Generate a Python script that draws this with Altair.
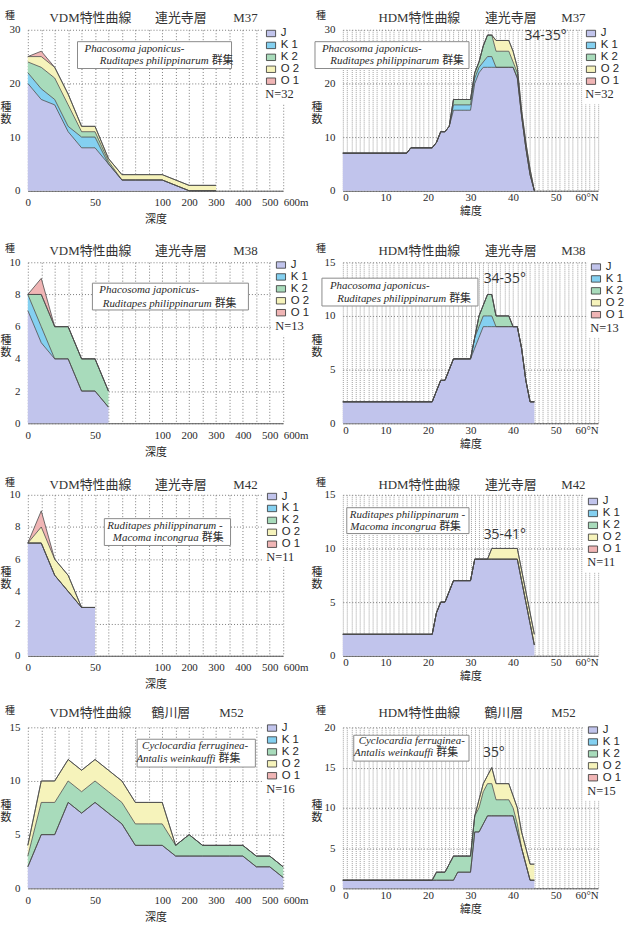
import altair as alt
import pandas as pd

# ---------------------------------------------------------------- data
SERIES = ["J", "K 1", "K 2", "O 2", "O 1"]
FILLS = ["#c1c4ec", "#84d0f0", "#a8dbbb", "#f6f3bb", "#f0b5b5"]

# depth steps of the VDM axis (one grid column per step)
DEPTH_STEPS = [0, 10, 20, 30, 40, 50, 60, 70, 80, 90, 100,
               150, 200, 250, 300, 350, 400, 450, 500, 600]
DEPTH_TICKS = [0, 50, 100, 200, 300, 400, 500, 600]

# M37 (連光寺層)
m37_depth = [0, 10, 20, 30, 40, 50, 60, 70, 80, 90, 100, 200, 300]
m37_vdm = {
    "J":   [20, 17, 16, 11, 8, 8, 5, 2, 2, 2, 2, 0, 0],
    "K 1": [2, 2, 1, 1, 2, 2, 0, 0, 0, 0, 0, 0, 0],
    "K 2": [2, 4, 4, 4, 1, 1, 0.5, 0, 0, 0, 0, 0, 0],
    "O 2": [1, 2, 2, 2, 1, 1, 0.5, 1, 1, 1, 1, 1, 1],
    "O 1": [0, 1, 0, 0, 0, 0, 0, 0, 0, 0, 0, 0, 0],
}
m37_lat = [0, 15, 16, 21, 22, 23, 24, 25, 26, 30, 31, 32, 33, 34, 35, 36, 39, 40, 41, 42, 43, 44, 45]
m37_hdm = {
    "J":   [7, 7, 8, 8, 9, 11, 11, 12, 15, 15, 20, 22, 23, 23, 23, 23, 23, 23, 21, 14, 8, 3, 0],
    "K 1": [0, 0, 0, 0, 0, 0, 0, 0, 1, 1, 1, 1, 1, 2, 2, 0, 0, 0, 0, 0, 0, 0, 0],
    "K 2": [0, 0, 0, 0, 0, 0, 0, 0, 1, 1, 1, 1, 3, 4, 4, 3, 3, 1, 1, 0, 0, 0, 0],
    "O 2": [0, 0, 0, 0, 0, 0, 0, 0, 0, 0, 0, 0, 0, 0, 0, 2, 2, 2, 1, 1, 1, 1, 0],
}

# M38 (連光寺層)
m38_depth = [0, 10, 20, 30, 40, 50, 60]
m38_vdm = {
    "J":   [7, 5, 4, 4, 2, 2, 1],
    "K 1": [1, 1, 0, 0, 0, 0, 0],
    "K 2": [0, 2, 2, 2, 2, 2, 1],
    "O 1": [0, 1, 0, 0, 0, 0, 0],
}
m38_lat = [0, 21, 22, 23, 24, 25, 26, 30, 31, 32, 33, 34, 35, 36, 39, 40, 41, 42, 43, 44, 45]
m38_hdm = {
    "J":   [2, 2, 3, 4, 4, 5, 6, 6, 7, 8, 9, 9, 9, 9, 9, 9, 9, 7, 4, 2, 2],
    "K 1": [0, 0, 0, 0, 0, 0, 0, 0, 1, 1, 1, 1, 1, 0, 0, 0, 0, 0, 0, 0, 0],
    "K 2": [0, 0, 0, 0, 0, 0, 0, 0, 0, 1, 1, 2, 2, 1, 1, 0, 0, 0, 0, 0, 0],
}

# M42 (連光寺層)
m42_depth = [0, 10, 20, 30, 40, 50]
m42_vdm = {
    "J":   [7, 7, 5, 4, 3, 3],
    "O 2": [0, 1, 1, 1, 0, 0],
    "O 1": [0, 1, 0, 0, 0, 0],
}
m42_lat = [0, 21, 22, 23, 24, 25, 26, 30, 31, 34, 35, 40, 41, 42, 43, 44, 45]
m42_hdm = {
    "J":   [2, 2, 4, 5, 5, 6, 7, 7, 9, 9, 9, 9, 9, 7, 5, 3, 1],
    "O 2": [0, 0, 0, 0, 0, 0, 0, 0, 0, 0, 1, 1, 1, 1, 1, 1, 1],
}

# M52 (鶴川層)
m52_depth = DEPTH_STEPS
m52_vdm = {
    "J":   [2, 5, 5, 8, 7, 8, 7, 6, 4, 4, 4, 3, 3, 3, 3, 3, 3, 2, 2, 1],
    "K 2": [1, 3, 3, 2, 2, 2, 2, 2, 2, 2, 2, 1, 2, 1, 1, 1, 1, 1, 1, 1],
    "O 2": [1, 2, 2, 2, 2, 2, 2, 2, 2, 2, 2, 0, 0, 0, 0, 0, 0, 0, 0, 0],
}
m52_lat = [0, 21, 22, 24, 25, 26, 27, 30, 31, 32, 33, 34, 35, 36, 39, 40, 41, 42, 43, 44, 45]
m52_hdm = {
    "J":   [1, 1, 1, 1, 1, 1, 2, 2, 7, 7, 8, 9, 9, 9, 9, 9, 7, 5, 3, 1, 1],
    "K 2": [0, 0, 1, 1, 2, 3, 2, 2, 2, 3, 4, 4, 4, 2, 2, 1, 1, 0, 0, 0, 0],
    "O 2": [0, 0, 0, 0, 0, 0, 0, 0, 0, 1, 1, 1, 2, 2, 2, 1.5, 2, 2, 2, 2, 2],
}

# ---------------------------------------------------------------- styling
W, H = 257, 162
SERIF = "Liberation Serif, Noto Sans CJK JP"
SANS = "Liberation Sans, Noto Sans CJK JP"
INK = "#2a2a2a"
SYMBOL = "M-1,-0.7H1V0.7H-1Z"
ONE = pd.DataFrame({"a": [0]})


def stacked(xs, cols):
    """Cumulative bands (y0..y1) for each group, J at the bottom."""
    rows, base = [], [0.0] * len(xs)
    for k, s in enumerate(SERIES):
        vals = cols.get(s, [0] * len(xs))
        for i, x in enumerate(xs):
            rows.append({"x": x, "series": s, "k": k, "y0": base[i], "y1": base[i] + vals[i]})
        base = [b + v for b, v in zip(base, vals)]
    return pd.DataFrame(rows)


def text(t, x, y, **kw):
    style = dict(font=SERIF, fontSize=12, color=INK, align="center", baseline="middle")
    style.update(kw)
    return alt.Chart(ONE).mark_text(text=t, **style).encode(x=alt.value(x), y=alt.value(y))


def depth_label_expr():
    parts = []
    for d in DEPTH_TICKS:
        lab = f"{d}m" if d == DEPTH_TICKS[-1] else f"{d}"
        parts.append(f"datum.value == {DEPTH_STEPS.index(d)} ? '{lab}' : ")
    return "".join(parts) + "''"


def panel(kind, xs, cols, ymax, ystep, title, anno, legend, deg=None, anchor=False):
    if kind == "VDM":
        df = stacked([DEPTH_STEPS.index(d) for d in xs], cols)
        last = len(DEPTH_STEPS) - 1
        xscale = alt.Scale(domain=[0, last], nice=False, zero=False)
        xaxis = alt.Axis(
            values=list(range(last + 1)), labelExpr=depth_label_expr(), labelOverlap=False,
            labelAlign={"expr": f"datum.value == {last} ? 'left' : 'center'"},
            title="深度", grid=True, gridDash=[1, 2], gridColor="#7c7c7c", gridWidth=1,
            ticks=False, labelPadding=6, titlePadding=6, domainColor="#555",
            labelFont=SERIF, labelFontSize=11, labelColor=INK,
            titleFont=SERIF, titleFontSize=11, titleFontWeight="normal", titleColor=INK)
        ylab_x = -22
    else:
        df = stacked(xs, cols)
        xscale = alt.Scale(domain=[0, 60], nice=False, zero=False)
        xaxis = alt.Axis(
            values=list(range(61)), labelOverlap=False,
            labelExpr="datum.value % 10 == 0 ? (datum.value == 60 ? '60°N' : '' + datum.value) : ''",
            title="緯度", grid=True, gridDash=[1, 1], gridColor="#a0a0a0", gridWidth=1,
            ticks=False, labelPadding=1, titlePadding=3, domainColor="#555",
            labelFont=SERIF, labelFontSize=11, labelColor=INK,
            titleFont=SERIF, titleFontSize=11, titleFontWeight="normal", titleColor=INK)
        ylab_x = -26

    yaxis = alt.Axis(values=list(range(0, ymax + 1, ystep)), title=None, grid=True,
                     gridDash=[1, 2], gridColor="#7c7c7c", domain=False, ticks=False,
                     labelOverlap=False, labelPadding=8, labelFont=SERIF,
                     labelFontSize=11, labelColor=INK)
    xenc = alt.X("x:Q", scale=xscale, axis=xaxis)
    yenc = alt.Y("y1:Q", scale=alt.Scale(domain=[0, ymax], nice=False), axis=yaxis)

    lx, ly, n_text = legend
    leg = alt.Legend(
        orient="none", legendX=lx, legendY=ly - 4, title=n_text, titleOrient="bottom",
        titleFont=SERIF, titleFontSize=12.5, titleFontWeight="normal", titleColor=INK,
        titlePadding=2, fillColor="white", padding=3, labelFont=SANS, labelFontSize=11.5,
        labelColor=INK, symbolType=SYMBOL, symbolSize=85, symbolStrokeColor="#333",
        symbolStrokeWidth=0.8, symbolOpacity=1, rowPadding=-2.25, labelOffset=4)

    area = alt.Chart(df).mark_area(interpolate="linear", opacity=1).encode(
        x=xenc, y=yenc, y2="y0:Q",
        color=alt.Color("series:N", scale=alt.Scale(domain=SERIES, range=FILLS), legend=leg),
    )
    edges = alt.Chart(df).mark_line(color="#4a4a4a", strokeWidth=0.8).encode(
        x=xenc, y=yenc, detail="series:N")

    layers = [area, edges]

    # species-group annotation box
    (bx0, bx1, by0, by1), (l1, l1x, l1y), (l2, l2x, l2y) = anno
    layers.append(alt.Chart(ONE).mark_rect(fill="white", stroke="#8a8a8a", strokeWidth=1).encode(
        x=alt.value(bx0), x2=alt.value(bx1), y=alt.value(by0), y2=alt.value(by1)))
    layers.append(text(l1, l1x, l1y, fontStyle="italic", fontSize=11, align="left"))
    layers.append(text(l2, l2x, l2y, fontStyle="italic", fontSize=11, align="right"))
    layers.append(text("群集", l2x + 3, l2y, fontSize=11, align="left"))

    # panel heading and y-axis caption
    (t1, t1x), (t2, t2x), (t3, t3x), ty = title
    layers.append(text(t1, t1x, ty, fontSize=13, color="#333"))
    layers.append(text(t2, t2x, ty, fontSize=13, color="#333"))
    layers.append(text(t3, t3x, ty, fontSize=13, color="#333"))
    layers.append(text("種", ylab_x + 4, ty - 2, fontSize=10))
    layers.append(text(["種", "数"], ylab_x, H / 2 - 2, fontSize=11, lineHeight=12))

    if deg is not None:
        dt, dx, dy = deg
        layers.append(text(dt, dx, dy, font="Open Sans", fontSize=14, color="#333"))

    if anchor:
        layers.append(alt.Chart(ONE).mark_rule(opacity=0).encode(
            x=alt.value(-28), y=alt.value(-27), y2=alt.value(0)))

    return alt.layer(*layers).properties(width=W, height=H)


TITLE_V = ("VDM特性曲線", 63)
TITLE_H = ("HDM特性曲線", 77)
PJ1 = "Phacosoma japonicus-"
PJ2 = "Ruditapes  philippinarum"
RM1 = "Ruditapes  philippinarum -"
RM2 = "Macoma incongrua"
CA1 = "Cyclocardia ferruginea-"
CA2 = "Antalis weinkauffi"

panels = [
    panel("VDM", m37_depth, m37_vdm, 30, 10,
          (TITLE_V, ("連光寺層", 154), ("M37", 219), -12),
          ((50, 205, 12, 39), (PJ1, 57, 19), (PJ2, 182, 31)),
          (236, -1, "N=32"), anchor=True),
    panel("HDM", m37_lat, m37_hdm, 30, 10,
          (TITLE_H, ("連光寺層", 169), ("M37", 232), -12),
          ((-28, 127, 12, 39), (PJ1, -21, 19), (PJ2, 97, 31)),
          (241, -1, "N=32"), deg=("34-35°", 204, 6)),
    panel("VDM", m38_depth, m38_vdm, 10, 2,
          (TITLE_V, ("連光寺層", 154), ("M38", 219), -11),
          ((65, 222, 21, 48), (PJ1, 72, 28), (PJ2, 185, 42)),
          (246, -2, "N=13")),
    panel("HDM", m38_lat, m38_hdm, 15, 5,
          (TITLE_H, ("連光寺層", 169), ("M38", 232), -11),
          ((-21, 136, 16, 44), (PJ1, -13, 24), (PJ2, 104, 37)),
          (246, 0, "N=13"), deg=("34-35°", 163, 17)),
    panel("VDM", m42_depth, m42_vdm, 10, 2,
          (TITLE_V, ("連光寺層", 154), ("M42", 219), -10),
          ((77, 204, 24, 51), (RM1, 80, 31), (RM2, 172, 43)),
          (237, -3, "N=11")),
    panel("HDM", m42_lat, m42_hdm, 15, 5,
          (TITLE_H, ("連光寺層", 169), ("M42", 232), -10),
          ((4, 127, 13, 39), (RM1, 7, 20), (RM2, 94, 32)),
          (243, 2, "N=11"), deg=("35-41°", 163, 40)),
    panel("VDM", m52_depth, m52_vdm, 15, 5,
          (TITLE_V, ("鶴川層", 144), ("M52", 205), -14),
          ((110, 229, 12, 40), (CA1, 115, 19), (CA2, 189, 32)),
          (237, -4, "N=16")),
    panel("HDM", m52_lat, m52_hdm, 20, 5,
          (TITLE_H, ("鶴川層", 162), ("M52", 222), -14),
          ((11, 127, 8, 34), (CA1, 16, 14), (CA2, 91, 26)),
          (243, -2, "N=15"), deg=("35°", 152, 26)),
]

chart = (
    alt.concat(*panels, columns=2, spacing={"row": 72, "column": 60}, bounds="flush")
    .resolve_scale(x="independent", y="independent", color="independent")
    .resolve_legend(color="independent")
    .properties(padding=0, autosize=alt.AutoSizeParams(type="pad"))
    .configure_view(stroke=None)
)

chart.save("out.html", embed_options={"renderer": "svg", "actions": False})
